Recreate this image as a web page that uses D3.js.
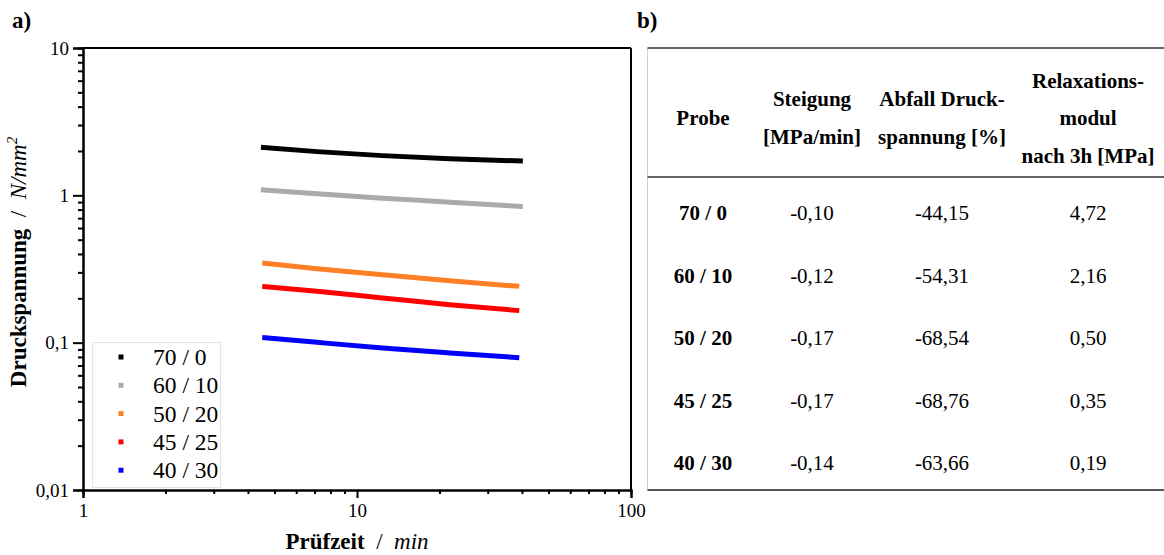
<!DOCTYPE html>
<html>
<head>
<meta charset="utf-8">
<script src="https://cdn.jsdelivr.net/npm/d3@7"></script>
<style>
  html, body { margin: 0; padding: 0; background: #fff; }
  svg { display: block; font-family: "Liberation Serif", "Times New Roman", serif; }
</style>
</head>
<body>
<svg id="fig" width="1164" height="555"></svg>
<script>
// Sample compositions (binder / filler ratio)
const samples = ["70 / 0", "60 / 10", "50 / 20", "45 / 25", "40 / 30"];
const colors = ["#000000", "#aaaaaa", "#ff7f27", "#ff0000", "#0000ff"];

// Test time in minutes for each series
const timeLong = [4.46, 7.15, 12.4, 21.8, 40.3];
const timeShort = [4.51, 7.15, 12.4, 21.8, 39.1];

// Compressive stress in N/mm² over time
const stress70_0  = [2.12, 1.98, 1.86, 1.77, 1.71];
const stress60_10 = [1.09, 1.024, 0.957, 0.899, 0.839];
const stress50_20 = [0.347, 0.318, 0.289, 0.263, 0.241];
const stress45_25 = [0.241, 0.223, 0.201, 0.181, 0.165];
const stress40_30 = [0.1086, 0.1005, 0.092, 0.0851, 0.079];

const seriesStress = [stress70_0, stress60_10, stress50_20, stress45_25, stress40_30];
const seriesTime = [timeLong, timeLong, timeShort, timeShort, timeShort];

// Axis ticks
const yMajor = [0.01, 0.1, 1, 10];
const xMajor = [1, 10, 100];
const yTickLabels = ["0,01", "0,1", "1", "10"];
const xTickLabels = ["1", "10", "100"];

// Table values
const tableHeader = [["Probe"], ["Steigung", "[MPa/min]"], ["Abfall Druck-", "spannung [%]"], ["Relaxations-", "modul", "nach 3h [MPa]"]];
const slope = ["-0,10", "-0,12", "-0,17", "-0,17", "-0,14"];
const dropPct = ["-44,15", "-54,31", "-68,54", "-68,76", "-63,66"];
const modulus = ["4,72", "2,16", "0,50", "0,35", "0,19"];

const svg = d3.select("#fig");

// ---------- panel a) ----------
const L = 83, R = 631, T = 48, B = 490;
const x = d3.scaleLog().domain([1, 100]).range([L, R]);
const y = d3.scaleLog().domain([0.01, 10]).range([B, T]);

function minors(decStarts) {
  const out = [];
  decStarts.forEach(d => { for (let k = 2; k <= 9; k++) out.push(d * k); });
  return out;
}
const yMinor = minors([0.01, 0.1, 1]);
const xMinor = minors([1, 10]);

svg.append("text").attr("x", 12).attr("y", 28)
  .attr("font-size", 23).attr("font-weight", "bold").text("a)");

// frame top and right
svg.append("line").attr("x1", L).attr("x2", R).attr("y1", T).attr("y2", T)
  .attr("stroke", "#000").attr("stroke-width", 2);
svg.append("line").attr("x1", R).attr("x2", R).attr("y1", T).attr("y2", B)
  .attr("stroke", "#000").attr("stroke-width", 2);

function styleAxis(g) {
  g.select(".domain").attr("stroke", "#000").attr("stroke-width", 2);
  g.selectAll(".tick line").attr("stroke", "#000").attr("stroke-width", 2);
}

// y axis
const gyMinor = svg.append("g").attr("transform", `translate(${L},0)`)
  .call(d3.axisLeft(y).tickValues(yMinor).tickSize(5).tickFormat(""));
styleAxis(gyMinor);
const gy = svg.append("g").attr("transform", `translate(${L},0)`)
  .call(d3.axisLeft(y).tickValues(yMajor).tickSize(10).tickPadding(4)
    .tickFormat((d, i) => yTickLabels[i]));
styleAxis(gy);
gy.selectAll(".tick text").attr("font-size", 19).attr("fill", "#000")
  .attr("font-family", "Liberation Serif");

// x axis
const gxMinor = svg.append("g").attr("transform", `translate(0,${B})`)
  .call(d3.axisBottom(x).tickValues(xMinor).tickSize(4).tickFormat(""));
styleAxis(gxMinor);
const gx = svg.append("g").attr("transform", `translate(0,${B})`)
  .call(d3.axisBottom(x).tickValues(xMajor).tickSize(8).tickPadding(6)
    .tickFormat((d, i) => xTickLabels[i]));
styleAxis(gx);
gx.selectAll(".tick text").attr("font-size", 19).attr("fill", "#000")
  .attr("font-family", "Liberation Serif");

// axis titles
const yt = svg.append("text")
  .attr("transform", `translate(26,${(T + B) / 2 - 7}) rotate(-90)`)
  .attr("text-anchor", "middle").attr("font-size", 23);
yt.append("tspan").attr("font-weight", "bold").text("Druckspannung");
yt.append("tspan").attr("xml:space", "preserve").text("  /  ");
yt.append("tspan").attr("font-style", "italic").text("N/mm");
yt.append("tspan").attr("font-style", "italic").attr("font-size", 15).attr("dy", -9).text("2");

const xt = svg.append("text")
  .attr("x", (L + R) / 2).attr("y", 549)
  .attr("text-anchor", "middle").attr("font-size", 23);
xt.append("tspan").attr("font-weight", "bold").text("Prüfzeit");
xt.append("tspan").attr("xml:space", "preserve").text("  /  ");
xt.append("tspan").attr("font-style", "italic").text("min");

// data lines
const line = d3.line().x(d => x(d[0])).y(d => y(d[1])).curve(d3.curveMonotoneX);
seriesStress.forEach((vals, i) => {
  const pts = vals.map((v, j) => [seriesTime[i][j], v]);
  svg.append("path").datum(pts).attr("d", line)
    .attr("fill", "none").attr("stroke", colors[i]).attr("stroke-width", 5);
});

// legend
const lg = svg.append("g");
lg.append("rect").attr("x", 92.5).attr("y", 342.5).attr("width", 128).attr("height", 145)
  .attr("fill", "#fff").attr("stroke", "#e4e4e4").attr("stroke-width", 1);
samples.forEach((s, i) => {
  const cy = 357 + i * 28.3;
  lg.append("rect").attr("x", 118.5).attr("y", cy - 2.5).attr("width", 5).attr("height", 5)
    .attr("fill", colors[i]);
  lg.append("text").attr("x", 153).attr("y", cy + 8)
    .attr("font-size", 23.5).text(s);
});

// ---------- panel b) ----------
svg.append("text").attr("x", 637).attr("y", 28)
  .attr("font-size", 23).attr("font-weight", "bold").text("b)");

const TL = 647.5, TR = 1164, TT = 48, TH = 177, TB = 490;
svg.append("line").attr("x1", TL).attr("x2", TL).attr("y1", TT).attr("y2", TB)
  .attr("stroke", "#d0d0d0").attr("stroke-width", 1);
svg.append("line").attr("x1", TL).attr("x2", TR).attr("y1", TT).attr("y2", TT)
  .attr("stroke", "#333").attr("stroke-width", 1.5);
svg.append("line").attr("x1", TL).attr("x2", TR).attr("y1", TH).attr("y2", TH)
  .attr("stroke", "#333").attr("stroke-width", 1.5);
svg.append("line").attr("x1", TL).attr("x2", TR).attr("y1", TB).attr("y2", TB)
  .attr("stroke", "#555").attr("stroke-width", 2);

const colCenters = [703, 812, 942, 1088];
const lineGap = 37.5;
const headerMid = 118;
tableHeader.forEach((lines, c) => {
  const n = lines.length;
  lines.forEach((t, k) => {
    svg.append("text").attr("x", colCenters[c])
      .attr("y", headerMid + (k - (n - 1) / 2) * lineGap + 7)
      .attr("text-anchor", "middle").attr("font-size", 21).attr("font-weight", "bold")
      .text(t);
  });
});

const rowY = d3.scalePoint().domain(d3.range(samples.length)).range([213, 463]);
const cols = [samples, slope, dropPct, modulus];
cols.forEach((vals, c) => {
  vals.forEach((v, r) => {
    svg.append("text").attr("x", colCenters[c]).attr("y", rowY(r) + 7)
      .attr("text-anchor", "middle").attr("font-size", 21)
      .attr("font-weight", c === 0 ? "bold" : "normal")
      .text(v);
  });
});
</script>
</body>
</html>
